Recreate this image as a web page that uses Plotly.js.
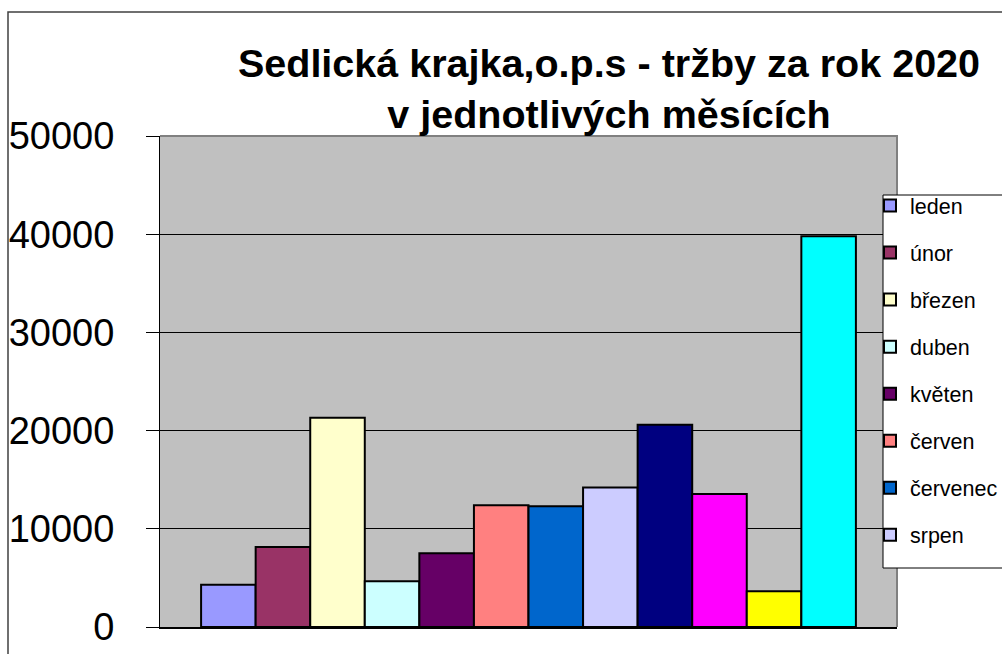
<!DOCTYPE html>
<html>
<head>
<meta charset="utf-8">
<script src="https://cdn.plot.ly/plotly-3.0.1.min.js"></script>
<style>
html,body{margin:0;padding:0;overflow:hidden;background:#ffffff}
#chart{width:1100px;height:654px}
</style>
</head>
<body>
<div id="chart"></div>
<script>
// ---- data ----
const months = ['leden','únor','březen','duben','květen','červen','červenec','srpen','září','říjen','listopad','prosinec'];
const revenues = [4300, 8150, 21300, 4650, 7500, 12400, 12300, 14200, 20600, 13550, 3650, 39800];
const colors = ['#9999FF','#993366','#FFFFCC','#CCFFFF','#660066','#FF8080','#0066CC','#CCCCFF','#000080','#FF00FF','#FFFF00','#00FFFF'];
const category = ['2020'];
const yTicks = [0, 10000, 20000, 30000, 40000, 50000];
const yTickText = ['0', '10000', '20000', '30000', '40000', '50000'];
const titleText = 'Sedlická krajka,o.p.s - tržby za rok 2020<br>v jednotlivých měsících';
const legendVisibleCount = 8;

// ---- layout geometry (pixels) ----
const W = 1100, H = 654;
const L = 160, R = 897, T = 136, B = 627;
const px = x => (x - L) / (R - L);
const py = y => (B - y) / (B - T);
const FONT = 'Arial, "Liberation Sans", sans-serif';

const traces = months.map((m, i) => ({
  type: 'bar',
  name: m,
  x: category,
  y: [revenues[i]],
  legendgroup: m,
  showlegend: i < legendVisibleCount,
  marker: {color: colors[i], line: {color: '#000000', width: 2}},
  hovertemplate: m + ': %{y}<extra></extra>'
}));

const layout = {
  width: W, height: H,
  margin: {l: L, r: W - R, t: T, b: H - B, pad: 0},
  paper_bgcolor: '#ffffff',
  plot_bgcolor: '#C0C0C0',
  font: {family: FONT, color: '#000000'},
  barmode: 'group',
  bargap: 0.1115,
  bargroupgap: 0,
  title: {
    text: titleText,
    font: {family: FONT, size: 39.5, color: '#000000', weight: 'bold'},
    xref: 'paper', x: px(609), xanchor: 'center',
    yref: 'container', y: 1 - 77 / H, yanchor: 'top'
  },
  xaxis: {
    type: 'category',
    showticklabels: false, ticks: '', showgrid: false, zeroline: false,
    showline: true, linecolor: '#000000', linewidth: 2,
    fixedrange: true
  },
  yaxis: {
    range: [0, 50000],
    tickvals: yTicks, ticktext: yTickText,
    ticks: 'outside', ticklen: 13, tickwidth: 1, tickcolor: '#000000',
    ticklabelstandoff: 24,
    tickfont: {family: FONT, size: 38, color: '#000000'},
    showgrid: true, gridcolor: '#000000', gridwidth: 1,
    showline: true, linecolor: '#000000', linewidth: 1,
    zeroline: false, fixedrange: true
  },
  showlegend: true,
  legend: {
    x: px(870), xanchor: 'left',
    y: py(185), yanchor: 'top',
    bgcolor: 'rgba(0,0,0,0)', borderwidth: 0,
    font: {family: FONT, size: 21.5, color: '#000000'},
    traceorder: 'grouped', tracegroupgap: 16.1,
    itemclick: false, itemdoubleclick: false
  },
  shapes: [
    // outer chart border (runs off the right and bottom edges)
    {type: 'path', xref: 'paper', yref: 'paper', layer: 'above',
     path: 'M ' + px(8) + ' ' + py(720) + ' L ' + px(8) + ' ' + py(12) + ' L ' + px(1095) + ' ' + py(12),
     line: {color: '#404040', width: 1.5}},
    // plot-area border: top and right in grey
    {type: 'path', xref: 'paper', yref: 'paper', layer: 'above',
     path: 'M 0 1 L 1 1 L 1 0',
     line: {color: '#808080', width: 2}},
    // legend box (clipped by the right edge)
    {type: 'rect', xref: 'paper', yref: 'paper', layer: 'above',
     x0: px(883), x1: px(1090), y0: py(568), y1: py(195),
     line: {color: '#000000', width: 1}, fillcolor: '#ffffff'}
  ]
};

Plotly.newPlot('chart', traces, layout, {displayModeBar: false, responsive: false});
</script>
</body>
</html>
